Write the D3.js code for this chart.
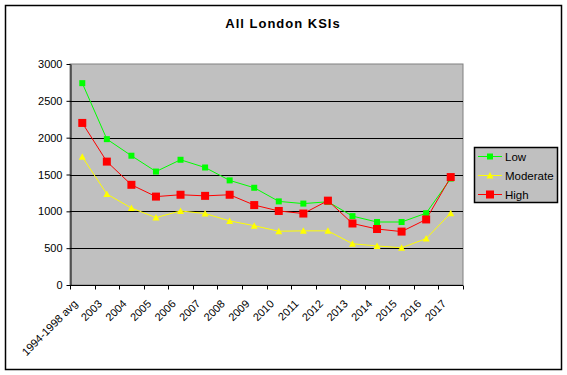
<!DOCTYPE html>
<html>
<head>
<meta charset="utf-8">
<script src="https://cdn.jsdelivr.net/npm/d3@7"></script>
<style>
  body { margin: 0; background: #fff; }
  text { font-family: "Liberation Sans", Arial, sans-serif; }
</style>
</head>
<body>
<svg id="chart" width="567" height="375"></svg>
<script>
// categories and series
const years = ["1994-1998 avg", "2003", "2004", "2005", "2006", "2007", "2008", "2009",
               "2010", "2011", "2012", "2013", "2014", "2015", "2016", "2017"];
const low      = [2740, 1980, 1755, 1540, 1700, 1595, 1420, 1320, 1135, 1105, 1130, 935, 855, 855, 975, 1445];
const moderate = [1740, 1235, 1045, 915, 1005, 970, 870, 805, 730, 735, 735, 560, 530, 505, 630, 975];
const high     = [2200, 1675, 1360, 1200, 1225, 1210, 1225, 1085, 1005, 970, 1145, 835, 760, 725, 890, 1465];
const yTicks = [0, 500, 1000, 1500, 2000, 2500, 3000];

const series = [
    {name: "Low", values: low, color: "#00ff00", shape: "square", size: 6},
    {name: "Moderate", values: moderate, color: "#ffff00", shape: "triangle", size: 7},
    {name: "High", values: high, color: "#ff0000", shape: "square", size: 8}
];

const svg = d3.select("#chart");

// outer frame
svg.append("rect")
    .attr("x", 5.5).attr("y", 5.5)
    .attr("width", 556).attr("height", 364)
    .attr("fill", "#fff").attr("stroke", "#000").attr("stroke-width", 1.5);

svg.append("text")
    .attr("x", 283).attr("y", 28)
    .attr("text-anchor", "middle")
    .style("font-size", "13px").style("font-weight", "bold")
    .style("letter-spacing", "1px")
    .text("All London KSIs");

const plotL = 70, plotR = 463, plotT = 64, plotB = 285;

let x = d3.scaleBand().domain(years).range([plotL, plotR]);
let y = d3.scaleLinear().domain([0, 3000]).range([plotB, plotT]);

svg.append("rect")
    .attr("x", plotL).attr("y", plotT)
    .attr("width", plotR - plotL).attr("height", plotB - plotT)
    .attr("fill", "#c0c0c0").attr("stroke", "#808080").attr("stroke-width", 1);

// gridlines
svg.append("g").selectAll("line")
    .data(yTicks.filter(d => d > 0 && d < 3000))
    .enter().append("line")
    .attr("x1", plotL).attr("x2", plotR)
    .attr("y1", d => Math.round(y(d)) + 0.5).attr("y2", d => Math.round(y(d)) + 0.5)
    .attr("stroke", "#000");

// y axis
let yAxis = svg.append("g")
    .attr("transform", "translate(" + (plotL + 0.5) + ",0)")
    .call(d3.axisLeft(y).tickValues(yTicks).tickFormat(d3.format("d"))
        .tickSize(4).tickSizeOuter(0).tickPadding(4));
yAxis.selectAll("text").style("font-size", "11px").attr("fill", "#000");
yAxis.selectAll("path, line").attr("stroke", "#000");

// x axis: ticks at band boundaries
let xg = svg.append("g").attr("transform", "translate(0," + (plotB + 0.5) + ")");
xg.append("line").attr("x1", plotL).attr("x2", plotR).attr("stroke", "#000");
xg.selectAll(".tk")
    .data(d3.range(years.length + 1))
    .enter().append("line")
    .attr("class", "tk")
    .attr("x1", i => Math.round(plotL + i * x.step()) + 0.5)
    .attr("x2", i => Math.round(plotL + i * x.step()) + 0.5)
    .attr("y1", 0).attr("y2", 4)
    .attr("stroke", "#000");
xg.selectAll(".lbl")
    .data(years)
    .enter().append("text")
    .attr("class", "lbl")
    .attr("text-anchor", "end")
    .attr("transform", d => "translate(" + (x(d) + x.bandwidth() / 2 - 4) + ",19) rotate(-45)")
    .style("font-size", "11px")
    .text(d => d);

let line = d3.line()
    .x((d, i) => x(years[i]) + x.bandwidth() / 2)
    .y(d => y(d));

function marker(g, s) {
    let h = s.size / 2;
    if (s.shape === "square") {
        g.append("rect")
            .attr("x", -h).attr("y", -h)
            .attr("width", s.size).attr("height", s.size)
            .attr("fill", s.color);
    } else {
        g.append("path")
            .attr("d", "M0," + (-h) + "L" + h + "," + (h - 0.5) + "L" + (-h) + "," + (h - 0.5) + "Z")
            .attr("fill", s.color);
    }
}

series.forEach(function (s) {
    svg.append("path")
        .datum(s.values)
        .attr("d", line)
        .attr("fill", "none")
        .attr("stroke", s.color)
        .attr("stroke-width", 1);
});
series.forEach(function (s) {
    svg.append("g").selectAll("g")
        .data(s.values)
        .enter().append("g")
        .attr("transform", (d, i) => "translate(" + (x(years[i]) + x.bandwidth() / 2) + "," + y(d) + ")")
        .each(function () { marker(d3.select(this), s); });
});

// legend
let lg = svg.append("g").attr("transform", "translate(474,147)");
lg.append("rect")
    .attr("x", 0.5).attr("y", 0.5)
    .attr("width", 83).attr("height", 55)
    .attr("fill", "#c0c0c0").attr("stroke", "#000").attr("stroke-width", 1.5);
series.forEach(function (s, i) {
    let row = lg.append("g").attr("transform", "translate(0," + (9.5 + i * 19) + ")");
    row.append("line").attr("x1", 4).attr("x2", 28).attr("stroke", s.color);
    marker(row.append("g").attr("transform", "translate(16,0)"), s);
    row.append("text")
        .attr("x", 31).attr("y", 4)
        .style("font-size", "11.5px")
        .text(s.name);
});
</script>
</body>
</html>
